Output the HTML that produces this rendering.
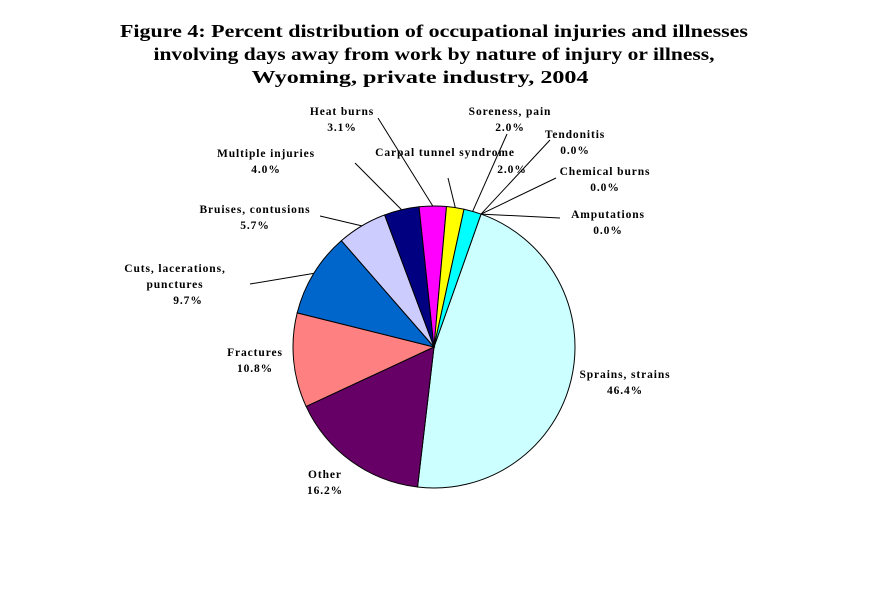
<!DOCTYPE html>
<html><head><meta charset="utf-8"><style>
body{margin:0;background:#fff;}
svg text{font-family:"Liberation Serif",serif;font-weight:bold;}
.lb{font-size:11.5px;text-anchor:middle;letter-spacing:0.9px;}
</style></head><body>
<svg width="869" height="594" xmlns="http://www.w3.org/2000/svg">
<g font-size="18" text-anchor="middle">
<text x="434" y="37" textLength="628" lengthAdjust="spacingAndGlyphs">Figure 4:  Percent distribution of occupational injuries and illnesses</text>
<text x="434" y="60" textLength="561" lengthAdjust="spacingAndGlyphs">involving days away from work by nature of injury or illness,</text>
<text x="420" y="83" textLength="337" lengthAdjust="spacingAndGlyphs">Wyoming, private industry, 2004</text>
</g>
<g id="slices"></g>
<g id="labels"></g>
</svg>
<script>
const categories=["Sprains, strains","Other","Fractures","Cuts, lacerations, punctures","Bruises, contusions","Multiple injuries","Heat burns","Carpal tunnel syndrome","Soreness, pain","Tendonitis","Chemical burns","Amputations"];
const values=[46.4,16.2,10.8,9.7,5.7,4.0,3.1,2.0,2.0,0.0,0.0,0.0];
const colors=["#CCFFFF","#660066","#FF8080","#0066CC","#CCCCFF","#000080","#FF00FF","#FFFF00","#00FFFF","#FFFFFF","#FFFFFF","#FFFFFF"];
const cx=434,cy=347,r=141,startDeg=19.5;
const total=values.reduce((a,b)=>a+b,0);
const ns="http://www.w3.org/2000/svg";
const g=document.getElementById('slices');
const pt=(deg,rr)=>[cx+rr*Math.sin(deg*Math.PI/180),cy-rr*Math.cos(deg*Math.PI/180)];
let a=startDeg;const mids=[];
values.forEach((v,i)=>{
  const span=v/total*360;const a2=a+span;mids.push(a+span/2);
  if(v>0){
    const [x1,y1]=pt(a,r),[x2,y2]=pt(a2,r);
    const p=document.createElementNS(ns,'path');
    p.setAttribute('d',`M${cx},${cy}L${x1},${y1}A${r},${r} 0 ${span>180?1:0} 1 ${x2},${y2}Z`);
    p.setAttribute('fill',colors[i]);p.setAttribute('stroke','#000');p.setAttribute('stroke-width','1');
    
    
    g.appendChild(p);
  }
  a=a2;
});
const layout=[
 [["Sprains, strains"],625,378,null],
 [["Other"],325,478,null],
 [["Fractures"],255,356,null],
 [["Cuts, lacerations,","punctures"],175,272,[250,284]],
 [["Bruises, contusions"],255,213,[320,216]],
 [["Multiple injuries"],266,157,[355,163]],
 [["Heat burns"],342,115,[378,118]],
 [["Carpal tunnel syndrome"],445,156,[448,178]],
 [["Soreness, pain"],510,115,[507,134]],
 [["Tendonitis"],575,138,[550,140]],
 [["Chemical burns"],605,175,[556,178]],
 [["Amputations"],608,218,[560,218]]
];
const pctPos=[[625,394],[325,494],[255,372],[188,304],[255,229],[266,173],[342,131],[512,173],[510,131],[575,154],[605,191],[608,234]];
const lg=document.getElementById('labels');
values.forEach((v,i)=>{
  const L=layout[i];
  const grp=document.createElementNS(ns,'g');
  
  
  L[0].forEach((s,k)=>{const t=document.createElementNS(ns,'text');t.setAttribute('class','lb');t.setAttribute('x',L[1]);t.setAttribute('y',L[2]+k*16);t.textContent=s;grp.appendChild(t);});
  const t=document.createElementNS(ns,'text');t.setAttribute('class','lb');t.setAttribute('x',pctPos[i][0]);t.setAttribute('y',pctPos[i][1]);t.textContent=v.toFixed(1)+'%';grp.appendChild(t);
  if(L[3]){const [ex,ey]=pt(mids[i],r);const ln=document.createElementNS(ns,'line');
    ln.setAttribute('x1',L[3][0]);ln.setAttribute('y1',L[3][1]);ln.setAttribute('x2',ex);ln.setAttribute('y2',ey);
    ln.setAttribute('stroke','#000');ln.setAttribute('stroke-width','1');
    
    
    grp.appendChild(ln);}
  lg.appendChild(grp);
});
</script>
</body></html>
